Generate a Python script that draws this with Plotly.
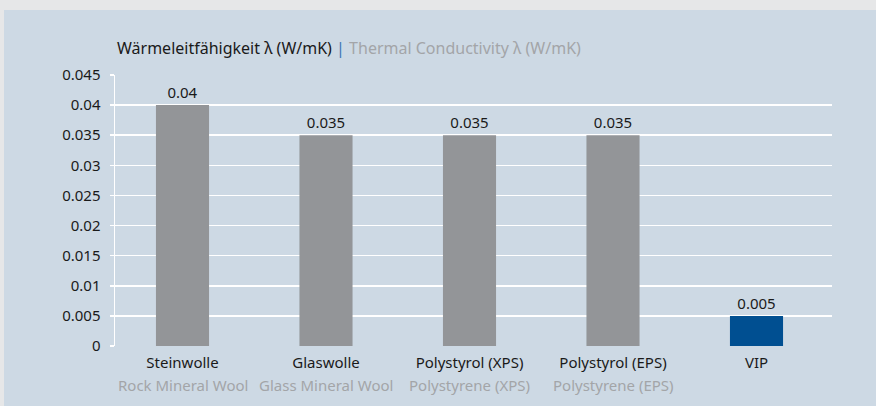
import plotly.graph_objects as go

categories_de = ["Steinwolle", "Glaswolle", "Polystyrol (XPS)", "Polystyrol (EPS)", "VIP"]
categories_en = ["Rock Mineral Wool", "Glass Mineral Wool", "Polystyrene (XPS)", "Polystyrene (EPS)", ""]
values = [0.04, 0.035, 0.035, 0.035, 0.005]
bar_colors = ["#939598", "#939598", "#939598", "#939598", "#004f91"]
y_ticks = [0, 0.005, 0.01, 0.015, 0.02, 0.025, 0.03, 0.035, 0.04, 0.045]
y_ticklabels = ["0", "0.005", "0.01", "0.015", "0.02", "0.025", "0.03", "0.035", "0.04", "0.045"]

FONT = "Noto Sans"
W, H = 876, 406
L, R, T, B = 115, 44, 75, 60
pw, ph = W - L - R, H - T - B
OUTER = "#e6e7e8"
PANEL = "#cdd9e4"

xs = list(range(len(categories_de)))

fig = go.Figure()
fig.add_trace(go.Bar(
    x=xs, y=values, width=0.37,
    marker=dict(color=bar_colors, line=dict(width=0)),
    text=[f"{v:g}" for v in values], textposition="outside",
    textfont=dict(family=FONT, size=15, color="#1a1a1a"),
    cliponaxis=False, hoverinfo="skip",
))

annotations = []
for i, en in enumerate(categories_en):
    if en:
        annotations.append(dict(x=i, y=0, xref="x", yref="paper", text=en, showarrow=False,
                                yanchor="middle", xanchor="center", yshift=-39,
                                font=dict(family=FONT, size=15, color="#a3a5a8")))
annotations.append(dict(
    x=0, y=1, xref="paper", yref="paper", xanchor="left", yanchor="middle", yshift=27, showarrow=False,
    text="<span style='color:#1a1a1a'>Wärmeleitfähigkeit λ (W/mK)</span> <span style='color:#3a75b5'>|</span> "
         "<span style='color:#a3a5a8'>Thermal Conductivity λ (W/mK)</span>",
    font=dict(family=FONT, size=16),
))

# outer light-grey frame strips (top and left) over a panel-coloured paper
shapes = [
    dict(type="rect", xref="paper", yref="paper", layer="below",
         x0=-L / pw - 0.01, x1=1 + R / pw + 0.01, y0=1 + (T - 10) / ph, y1=1 + T / ph + 0.01,
         fillcolor=OUTER, line=dict(width=0)),
    dict(type="rect", xref="paper", yref="paper", layer="below",
         x0=-L / pw - 0.01, x1=(4 - L) / pw, y0=-B / ph - 0.01, y1=1 + T / ph + 0.01,
         fillcolor=OUTER, line=dict(width=0)),
]

fig.update_layout(
    width=W, height=H,
    margin=dict(l=L, r=R, t=T, b=B),
    paper_bgcolor=PANEL, plot_bgcolor="rgba(0,0,0,0)",
    showlegend=False,
    font=dict(family=FONT, size=15, color="#1a1a1a"),
    bargap=0.63,
    shapes=shapes,
    annotations=annotations,
    xaxis=dict(
        range=[(L - 182.5) / 143.5, (L + pw - 182.5) / 143.5],
        tickvals=xs, ticktext=categories_de, showgrid=False, zeroline=False,
        showline=False, ticks="", ticklabelstandoff=6,
        tickfont=dict(family=FONT, size=15, color="#1a1a1a"),
        fixedrange=True,
    ),
    yaxis=dict(
        range=[0, 0.045], tickvals=y_ticks, ticktext=y_ticklabels,
        showgrid=True, gridcolor="#ffffff", gridwidth=1.5,
        zeroline=False, showline=True, linecolor="#ffffff", linewidth=1.5,
        ticks="outside", ticklen=4, tickcolor="#ffffff", tickwidth=1.5,
        ticklabelstandoff=6,
        tickfont=dict(family=FONT, size=15, color="#1a1a1a"),
        fixedrange=True,
    ),
)

fig.write_html(
    "out.html", config={"displayModeBar": False, "staticPlot": True},
    post_script=("var de=document.documentElement,b=document.body;"
                 "de.style.margin='0';b.style.margin='0';de.style.padding='0';b.style.padding='0';"
                 "de.style.overflow='hidden';b.style.overflow='hidden';"
                 "de.style.background='%s';b.style.background='%s';")
                % (PANEL, PANEL),
)
